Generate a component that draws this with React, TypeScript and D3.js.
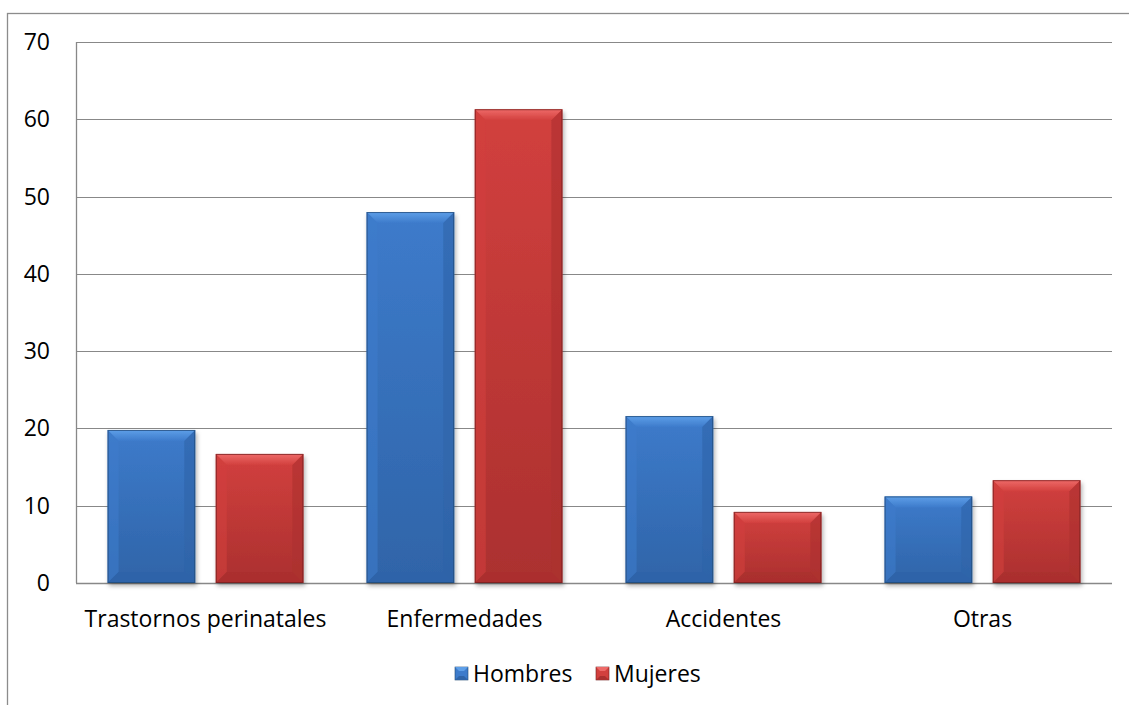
import React from "react";
import * as d3 from "d3";

const categories = ["Trastornos perinatales", "Enfermedades", "Accidentes", "Otras"];
const seriesNames = ["Hombres", "Mujeres"];
const hombres = [19.8, 48.0, 21.6, 11.2];
const mujeres = [16.7, 61.3, 9.2, 13.3];
const yTicks = [0, 10, 20, 30, 40, 50, 60, 70];

const W = 1129;
const H = 705;
const plot = { left: 76, right: 1112, top: 42, bottom: 583 };
const FONT = "'Open Sans', sans-serif";
const FS = 23;

const palette: Record<string, { main: string; light: string; dark: string; edge: string }> = {
  Hombres: { main: "#3d7bcb", light: "#5e9fe8", dark: "#2f64a8", edge: "#1f4670" },
  Mujeres: { main: "#d2403e", light: "#ee6a68", dark: "#ab302f", edge: "#6e1d1c" },
};

function Bar({ x, y, w, h, name }: { x: number; y: number; w: number; h: number; name: string }) {
  const c = palette[name];
  const b = Math.min(11, h / 3, w / 4);
  const id = name.toLowerCase();
  return (
    <g filter="url(#shadow)">
      <rect x={x} y={y} width={w} height={h} fill={`url(#body-${id})`} />
      {/* top bevel */}
      <polygon
        points={`${x},${y} ${x + w},${y} ${x + w - b},${y + b} ${x + b},${y + b}`}
        fill={`url(#top-${id})`}
      />
      {/* left bevel */}
      <polygon
        points={`${x},${y} ${x + b},${y + b} ${x + b},${y + h - b} ${x},${y + h}`}
        fill={c.main}
        opacity={0.6}
      />
      {/* right bevel */}
      <polygon
        points={`${x + w},${y} ${x + w - b},${y + b} ${x + w - b},${y + h - b} ${x + w},${y + h}`}
        fill={c.dark}
        opacity={0.6}
      />
      {/* bottom bevel */}
      <polygon
        points={`${x},${y + h} ${x + b},${y + h - b} ${x + w - b},${y + h - b} ${x + w},${y + h}`}
        fill={c.dark}
        opacity={0.9}
      />
      <rect x={x + 0.5} y={y + 0.5} width={w - 1} height={h - 1} fill="none" stroke={c.edge} strokeOpacity={0.7} />
    </g>
  );
}

export default function App() {
  const x0 = d3
    .scaleBand<string>()
    .domain(categories)
    .range([plot.left, plot.right])
    .paddingInner(0.244)
    .paddingOuter(0.122);
  const x1 = d3
    .scaleBand<string>()
    .domain(seriesNames)
    .range([0, x0.bandwidth()])
    .paddingInner(0.19);
  const y = d3.scaleLinear().domain([0, 70]).range([plot.bottom, plot.top]);

  const values: Record<string, number[]> = { Hombres: hombres, Mujeres: mujeres };

  const legendBase = 682;
  const legendItems = [
    { name: "Hombres", x: 455 },
    { name: "Mujeres", x: 596 },
  ];
  const sq = 13;

  return (
    <svg
      width={W}
      height={H}
      style={{ position: "absolute", left: 0, top: 0, background: "#fff" }}
      fontFamily={FONT}
    >
      <defs>
        <filter id="shadow" x="-20%" y="-20%" width="140%" height="140%">
          <feDropShadow dx="1.5" dy="3" stdDeviation="2" floodColor="#000" floodOpacity="0.3" />
        </filter>
        {seriesNames.map((n) => {
          const c = palette[n];
          const id = n.toLowerCase();
          return (
            <React.Fragment key={n}>
              <linearGradient id={`body-${id}`} x1="0" y1="0" x2="0" y2="1">
                <stop offset="0" stopColor={c.main} />
                <stop offset="1" stopColor={c.dark} />
              </linearGradient>
              <linearGradient id={`top-${id}`} x1="0" y1="0" x2="0" y2="1">
                <stop offset="0" stopColor={c.light} />
                <stop offset="1" stopColor={c.main} />
              </linearGradient>
            </React.Fragment>
          );
        })}
      </defs>

      {/* outer chart border */}
      <rect x={7.5} y={13.5} width={W + 20} height={H + 20} fill="none" stroke="#8c8c8c" strokeWidth={1.3} />

      {/* gridlines */}
      {yTicks.map((t) => (
        <line
          key={t}
          x1={plot.left}
          x2={plot.right}
          y1={Math.round(y(t)) + 0.5}
          y2={Math.round(y(t)) + 0.5}
          stroke="#888"
          strokeWidth={t === 0 ? 1.5 : 1.2}
        />
      ))}
      <line x1={plot.left + 0.5} x2={plot.left + 0.5} y1={plot.top} y2={plot.bottom} stroke="#888" strokeWidth={1.3} />

      {/* y tick labels */}
      {yTicks.map((t) => (
        <text key={t} x={50} y={y(t) + 8} textAnchor="end" fontSize={FS} fill="#000">
          {t}
        </text>
      ))}

      {/* bars */}
      {categories.map((cat, i) => (
        <g key={cat}>
          {seriesNames.map((n) => {
            const v = values[n][i];
            const bx = (x0(cat) as number) + (x1(n) as number);
            const by = y(v);
            return <Bar key={n} x={bx} y={by} w={x1.bandwidth()} h={y(0) - by} name={n} />;
          })}
        </g>
      ))}

      {/* category labels */}
      {categories.map((cat) => (
        <text
          key={cat}
          x={(x0(cat) as number) + x0.bandwidth() / 2}
          y={627}
          textAnchor="middle"
          fontSize={FS}
          fill="#000"
        >
          {cat}
        </text>
      ))}

      {/* legend */}
      {legendItems.map((it) => {
        const c = palette[it.name];
        const top = legendBase - 15;
        const bv = 4;
        return (
          <g key={it.name}>
            <rect x={it.x} y={top} width={sq} height={sq} fill={c.main} stroke={c.edge} strokeWidth={0.6} />
            <polygon
              points={`${it.x},${top} ${it.x + sq},${top} ${it.x + sq - bv},${top + bv} ${it.x + bv},${top + bv}`}
              fill={c.light}
            />
            <polygon
              points={`${it.x},${top + sq} ${it.x + bv},${top + sq - bv} ${it.x + sq - bv},${top + sq - bv} ${it.x + sq},${top + sq}`}
              fill={c.dark}
            />
            <text x={it.x + sq + 5} y={legendBase} fontSize={FS} fill="#000">
              {it.name}
            </text>
          </g>
        );
      })}
    </svg>
  );
}
